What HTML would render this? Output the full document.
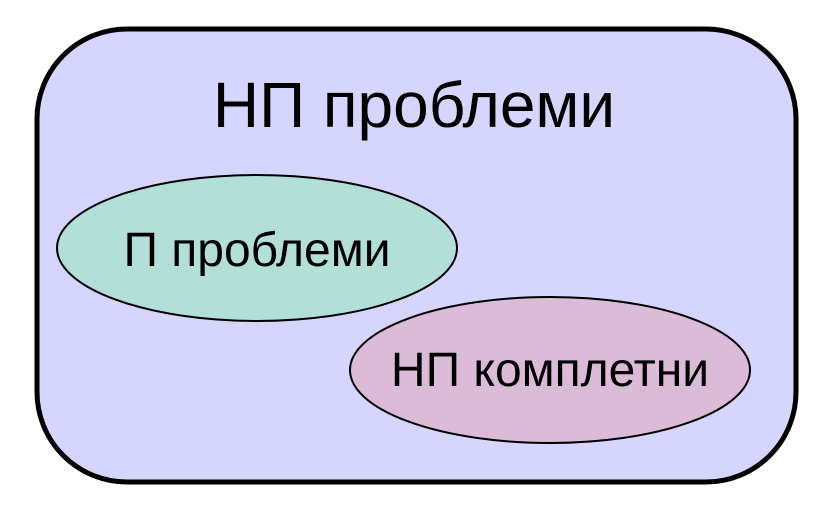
<!DOCTYPE html>
<html><head><meta charset="utf-8"><style>html,body{margin:0;padding:0;background:#fff}</style></head>
<body>
<svg width="831" height="512" viewBox="0 0 831 512" xmlns="http://www.w3.org/2000/svg" font-family="Liberation Sans, DejaVu Sans, sans-serif">
<rect x="37" y="29" width="759" height="453" rx="90" ry="90" fill="#d5d5fd" stroke="#000" stroke-width="5"/>
<text x="414" y="127" font-size="64" text-anchor="middle" fill="#000">НП проблеми</text>
<ellipse cx="257" cy="248" rx="200" ry="73" fill="#b3dfd9" stroke="#000" stroke-width="2"/>
<text x="257" y="266" font-size="48" text-anchor="middle" fill="#000">П проблеми</text>
<ellipse cx="550" cy="370" rx="200" ry="73" fill="#dcbbd8" stroke="#000" stroke-width="2"/>
<text x="550" y="386" font-size="48" text-anchor="middle" fill="#000">НП комплетни</text>
</svg>
</body></html>
